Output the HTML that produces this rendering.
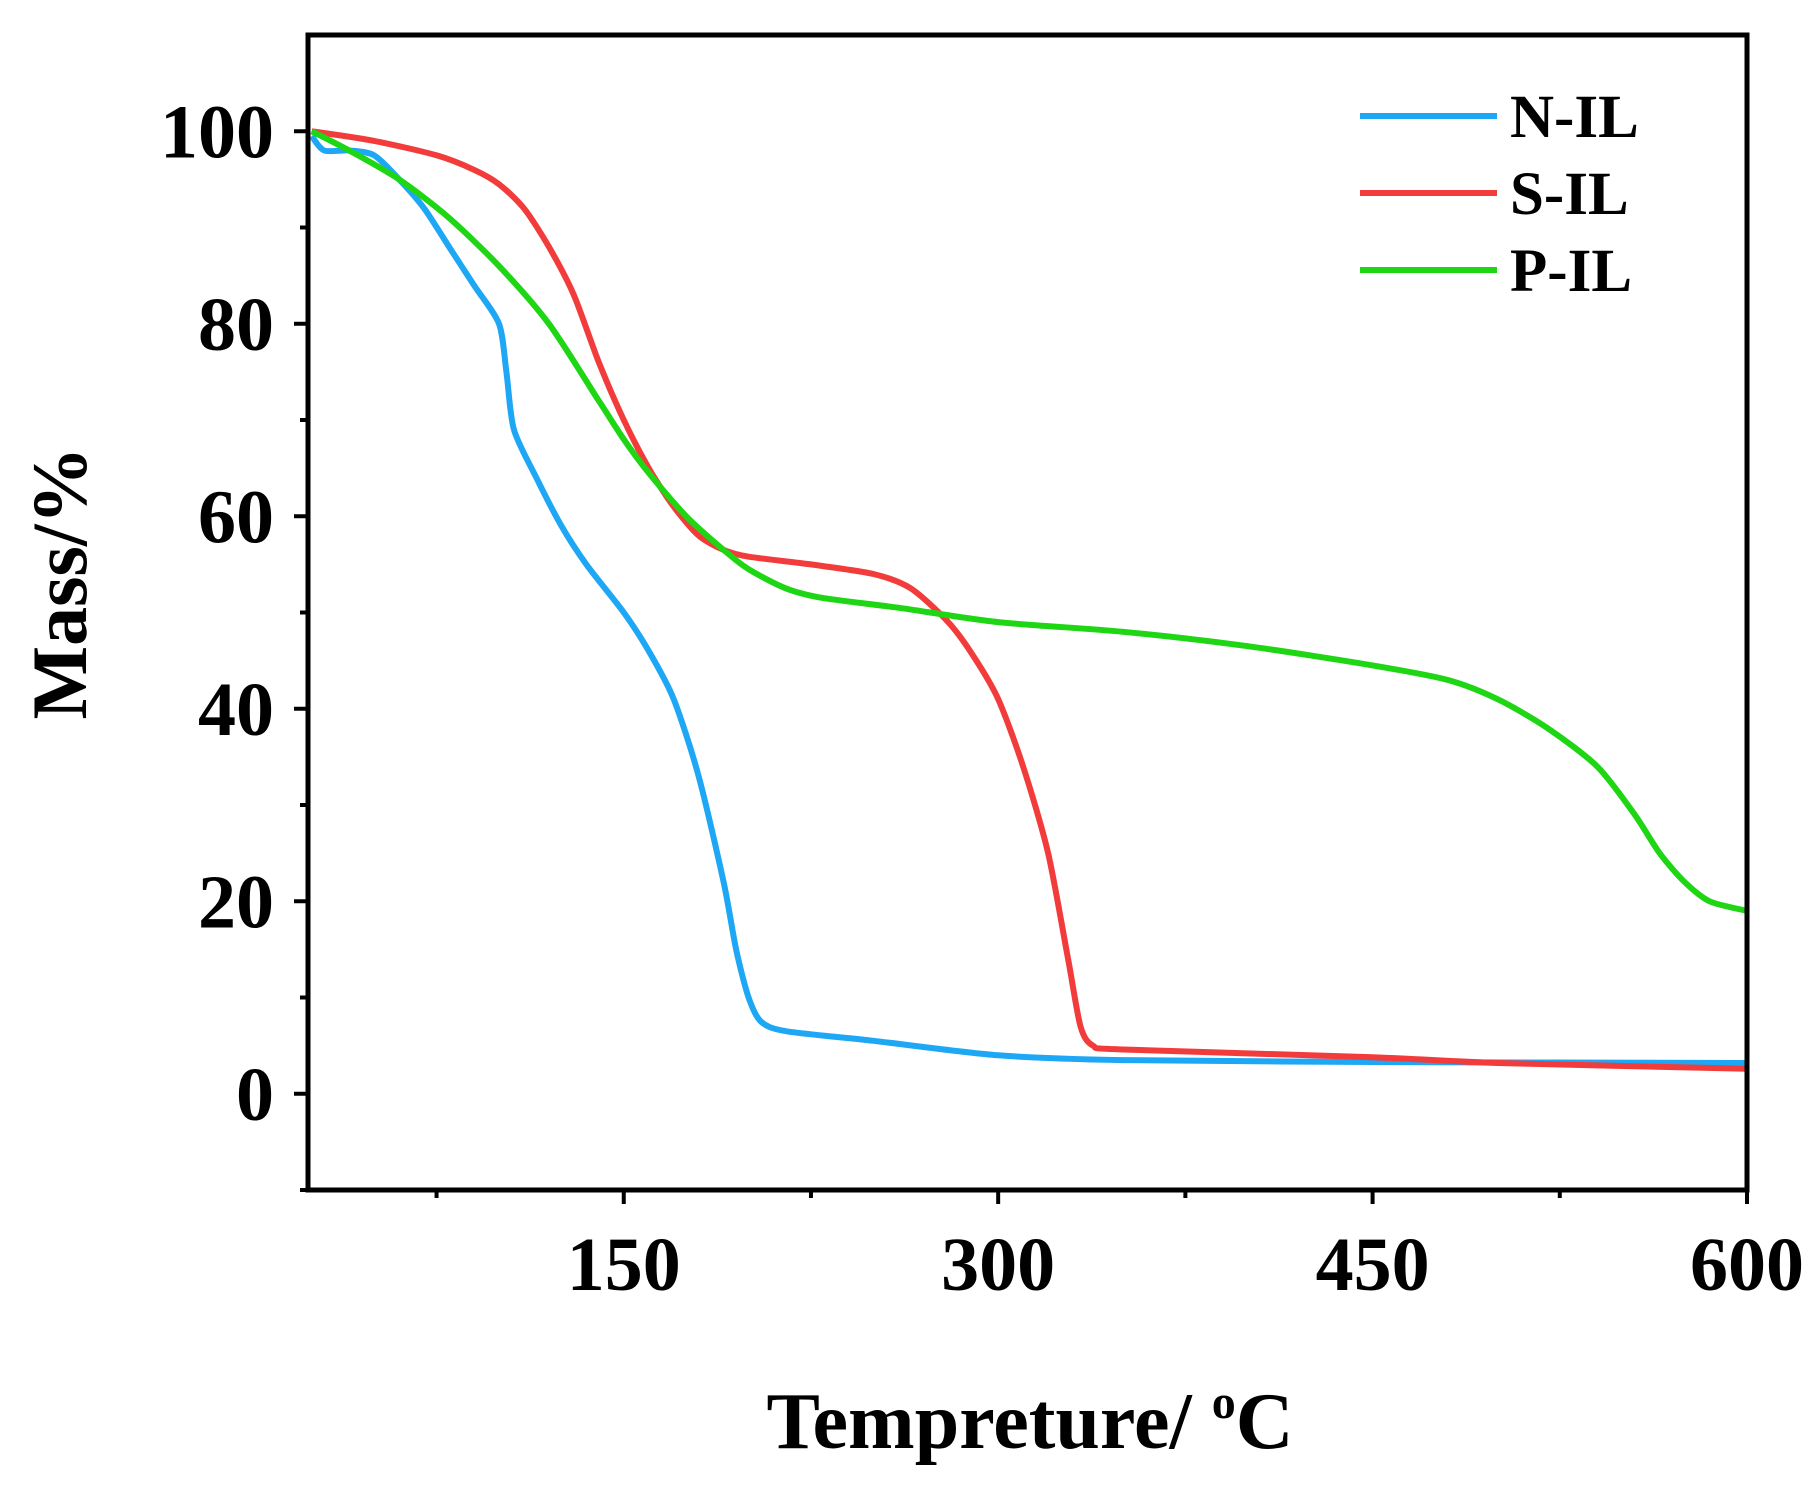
<!DOCTYPE html>
<html><head><meta charset="utf-8"><style>
html,body{margin:0;padding:0;background:#fff;}
svg{display:block;font-family:"Liberation Serif",serif;font-weight:bold;}
</style></head><body>
<svg id="chart" width="1820" height="1488" viewBox="0 0 1820 1488">
<g id="plot"></g>
</svg>
<script>
const xTicks=[150,300,450,600];
const xMinor=[75,225,375,525];
const yTicks=[0,20,40,60,80,100];
const yMinor=[-10,10,30,50,70,90];
const seriesNames=["N-IL","S-IL","P-IL"];
const seriesColors=["#1ea7f5","#f23c3c","#1fd614"];
const nT=[25,30,40,50,60,70,80,90,100,103,106,115,125,135,150,160,170,180,190,195,200,205,215,250,300,350,450,600];
const nM=[99.5,98,98,97.5,95,92,88,84,80,75,69,64,59,55,50,46,41,33,22,15,10,7.5,6.5,5.5,4,3.5,3.3,3.2];
const sT=[25,50,75,90,100,110,120,130,140,150,160,170,180,190,200,225,250,265,280,290,300,310,320,328,333,338,350,450,500,600];
const sM=[100,99,97.5,96,94.5,92,88,83,76,70,65,61,58,56.5,55.8,55,54,52.5,49,45.5,41,34,25,14,7,5,4.6,3.8,3.2,2.6];
const pT=[25,40,60,80,100,120,140,150,160,175,190,200,215,230,260,300,350,400,450,480,500,520,540,555,565,575,585,600];
const pM=[100,98,95,91,86,80,72,68,64.5,60,56.5,54.5,52.5,51.5,50.5,49,48,46.5,44.5,43,41,38,34,29,25,22,20,19];

const L=308,R=1747,T=35,B=1190,xmin=23.5,xmax=600,ymin=-10,ymax=110;
const X=v=>L+(v-xmin)/(xmax-xmin)*(R-L);
const Y=v=>B-(v-ymin)/(ymax-ymin)*(B-T);
const NS="http://www.w3.org/2000/svg";
const g=document.getElementById('plot');
function mk(tag,attrs,parent){const e=document.createElementNS(NS,tag);for(const k in attrs)e.setAttribute(k,attrs[k]);(parent||g).appendChild(e);return e;}
function smooth(pts){
  let d='M'+pts[0][0].toFixed(1)+','+pts[0][1].toFixed(1);
  for(let i=0;i<pts.length-1;i++){
    const p0=pts[Math.max(0,i-1)],p1=pts[i],p2=pts[i+1],p3=pts[Math.min(pts.length-1,i+2)];
    const k=1/6*0.8;
    const c1=[p1[0]+(p2[0]-p0[0])*k,p1[1]+(p2[1]-p0[1])*k];
    const c2=[p2[0]-(p3[0]-p1[0])*k,p2[1]-(p3[1]-p1[1])*k];
    d+='C'+c1.map(v=>v.toFixed(1)).join(',')+' '+c2.map(v=>v.toFixed(1)).join(',')+' '+p2[0].toFixed(1)+','+p2[1].toFixed(1);
  }
  return d;
}

const data=[[nT,nM],[sT,sM],[pT,pM]];
data.forEach((d,i)=>{
  const pts=d[0].map((t,j)=>[X(t),Y(d[1][j])]);
  const p=mk('path',{d:smooth(pts),fill:'none',stroke:seriesColors[i],'stroke-width':6,'stroke-linejoin':'round'});
  
  
});

const frame=mk('rect',{x:L,y:T,width:R-L,height:B-T,fill:'none',stroke:'#000','stroke-width':5});



xTicks.forEach(v=>{
  const t=mk('line',{x1:X(v),x2:X(v),y1:B,y2:B+14,stroke:'#000','stroke-width':4});
  
  
  const tx=mk('text',{x:X(v),y:B+100,'text-anchor':'middle','font-size':76});
  tx.textContent=v;
  
  
});
xMinor.forEach(v=>{
  const t=mk('line',{x1:X(v),x2:X(v),y1:B,y2:B+8,stroke:'#000','stroke-width':4});
  
  
});
yTicks.forEach(v=>{
  const t=mk('line',{x1:L-14,x2:L,y1:Y(v),y2:Y(v),stroke:'#000','stroke-width':4});
  
  
  const tx=mk('text',{x:L-34,y:Y(v)+26,'text-anchor':'end','font-size':76});
  tx.textContent=v;
  
  
});
yMinor.forEach(v=>{
  const t=mk('line',{x1:L-8,x2:L,y1:Y(v),y2:Y(v),stroke:'#000','stroke-width':4});
  
  
});

const xt=mk('text',{x:1030,y:1448,'text-anchor':'middle','font-size':80});
xt.innerHTML='Tempreture/ <tspan font-size="48" dy="-30">o</tspan><tspan dy="30">C</tspan>';


const yt=mk('text',{x:0,y:0,'text-anchor':'middle','font-size':78,transform:'translate(86,583) rotate(-90)'});
yt.textContent='Mass/%';



seriesNames.forEach((n,i)=>{
  const y=116+i*77;
  const ln=mk('line',{x1:1360,x2:1497,y1:y,y2:y,stroke:seriesColors[i],'stroke-width':6});
  
  
  const tx=mk('text',{x:1510,y:y+21,'font-size':61});
  tx.textContent=n;
  
  
});
</script>
</body></html>
